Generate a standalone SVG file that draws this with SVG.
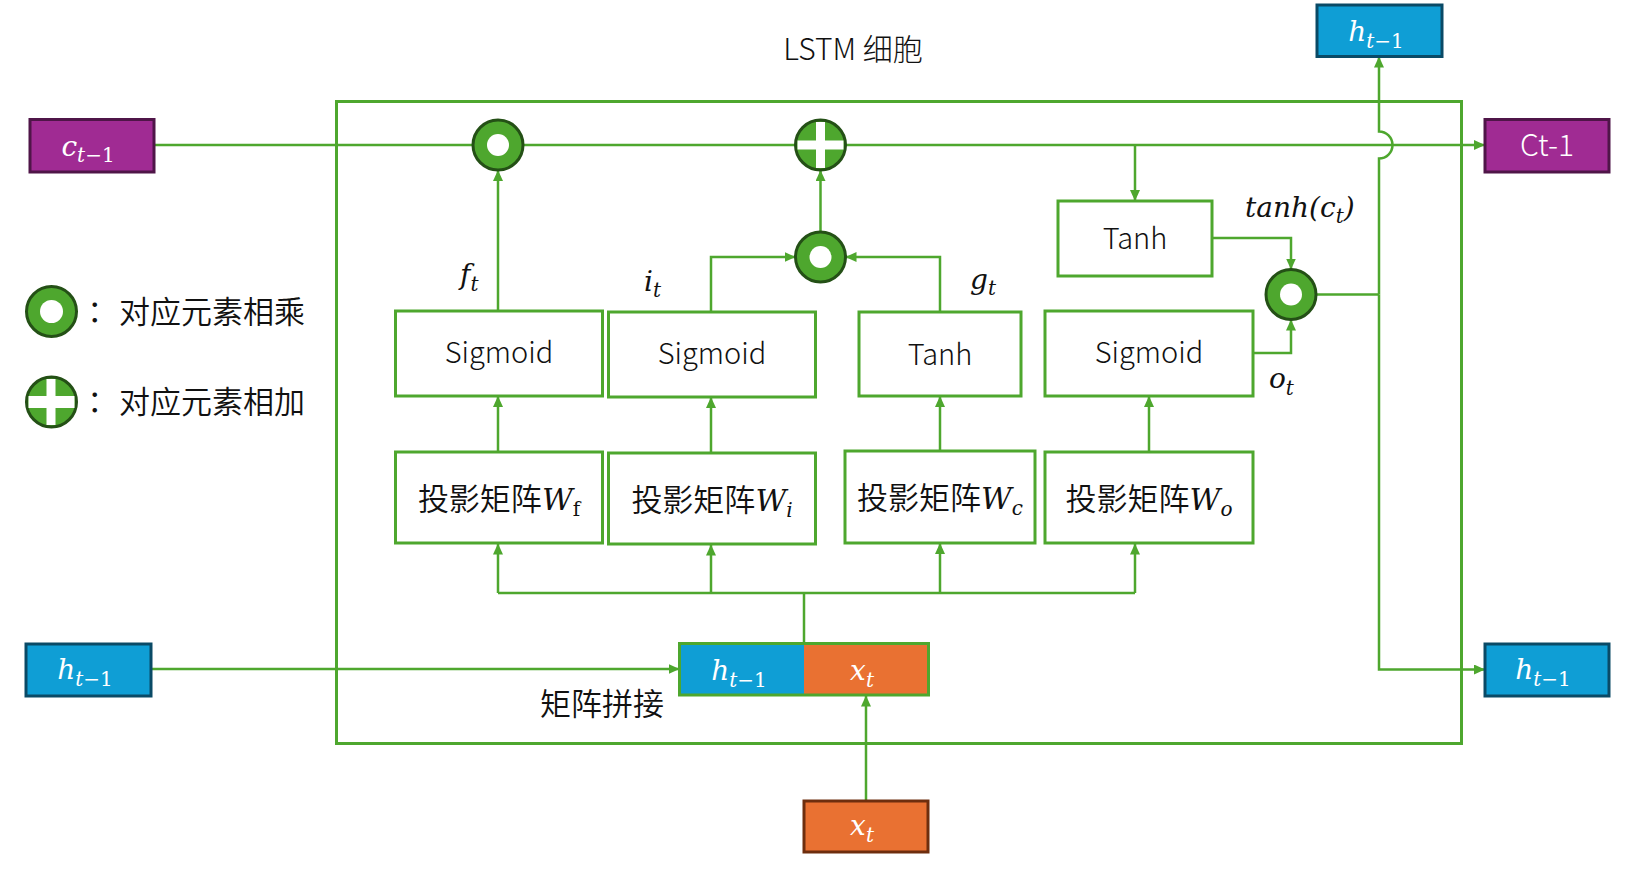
<svg xmlns="http://www.w3.org/2000/svg" width="1636" height="884" viewBox="0 0 1636 884">
<defs>
<style>
.frame{fill:none;stroke:#4EA72E;stroke-width:3}
.box{fill:#fff;stroke:#4EA72E;stroke-width:3}
.blue{fill:#0F9ED5;stroke:#0A4A66;stroke-width:3}
.purple{fill:#A02B93;stroke:#4F1548;stroke-width:3}
.orange{fill:#E97132;stroke:#6E2E0E;stroke-width:3}
.cat{fill:none;stroke:#4EA72E;stroke-width:3}
.op{fill:#4EA72E;stroke:#245016;stroke-width:3}
.hole{fill:#fff}
.conn{fill:none;stroke:#4EA72E;stroke-width:2.5}
.lbl{font-family:"Noto Sans CJK SC","Noto Sans",sans-serif;font-weight:300;font-size:29px;fill:#111;text-anchor:middle}
.cn{font-family:"Noto Sans CJK SC",sans-serif;font-weight:350;font-size:31px;fill:#111}
.math{font-family:"DejaVu Serif","Liberation Serif",serif;font-style:italic;font-size:28px;fill:#111}
.mw{font-family:"DejaVu Serif","Liberation Serif",serif;font-style:italic;font-size:30px}
.wt{fill:#fff}
.sub{font-size:20px}
.up{font-style:normal}
</style>
<marker id="arr" markerUnits="userSpaceOnUse" markerWidth="11" markerHeight="10" refX="11" refY="5" orient="auto" viewBox="0 0 11 10"><path d="M0,0 L11,5 L0,10 z" fill="#4EA72E"/></marker>
</defs>
<rect width="1636" height="884" fill="#fff"/>

<g id="frame"><rect class="frame" x="336.5" y="101.5" width="1125" height="642"/></g>
<text id="title" class="lbl" x="853" y="60" style="font-size:30px">LSTM 细胞</text>

<g id="connectors">
<path class="conn" d="M154,145 H1485" marker-end="url(#arr)"/>
<path class="conn" d="M498,311 V170" marker-end="url(#arr)"/>
<path class="conn" d="M820.5,232 V170" marker-end="url(#arr)"/>
<path class="conn" d="M711,312 V257 H795.5" marker-end="url(#arr)"/>
<path class="conn" d="M940,312 V257 H845.5" marker-end="url(#arr)"/>
<path class="conn" d="M1135,145 V201" marker-end="url(#arr)"/>
<path class="conn" d="M1212,238 H1291 V269.5" marker-end="url(#arr)"/>
<path class="conn" d="M1253,353 H1291 V319.5" marker-end="url(#arr)"/>
<path class="conn" d="M1316,294.5 H1379"/>
<path class="conn" d="M1379,294.5 V158.5 A13.5,13.5 0 0 0 1379,131.5 V56.5" marker-end="url(#arr)"/>
<path class="conn" d="M1379,294.5 V669.5 H1485" marker-end="url(#arr)"/>
<path class="conn" d="M151,669 H679.5" marker-end="url(#arr)"/>
<path class="conn" d="M498,452 V396" marker-end="url(#arr)"/>
<path class="conn" d="M711,453 V397" marker-end="url(#arr)"/>
<path class="conn" d="M940,451 V396" marker-end="url(#arr)"/>
<path class="conn" d="M1149,452 V396" marker-end="url(#arr)"/>
<path class="conn" d="M804,643.5 V593"/>
<path class="conn" d="M498,593 H1135"/>
<path class="conn" d="M498,593 V543.5" marker-end="url(#arr)"/>
<path class="conn" d="M711,593 V544.5" marker-end="url(#arr)"/>
<path class="conn" d="M940,593 V543" marker-end="url(#arr)"/>
<path class="conn" d="M1135,593 V543.5" marker-end="url(#arr)"/>
<path class="conn" d="M866,801 V695.5" marker-end="url(#arr)"/>
</g>

<g id="c_prev"><rect class="purple" x="30" y="119.5" width="124" height="52.5"/>
<text class="math wt" x="88" y="156" text-anchor="middle">c<tspan class="sub" dy="6">t</tspan><tspan class="sub up">−1</tspan></text></g>
<g id="c_out"><rect class="purple" x="1485" y="119.5" width="124" height="52.5"/>
<text class="lbl" x="1547" y="156" style="font-size:30px;fill:#fff">Ct-1</text></g>
<g id="h_top"><rect class="blue" x="1317" y="5" width="125" height="51.5"/>
<text class="math wt" x="1376" y="41" text-anchor="middle">h<tspan class="sub" dy="7">t</tspan><tspan class="sub up">−1</tspan></text></g>
<g id="h_in"><rect class="blue" x="26" y="644" width="125" height="52"/>
<text class="math wt" x="85" y="679" text-anchor="middle">h<tspan class="sub" dy="7">t</tspan><tspan class="sub up">−1</tspan></text></g>
<g id="h_out"><rect class="blue" x="1485" y="644" width="124" height="52"/>
<text class="math wt" x="1543" y="679" text-anchor="middle">h<tspan class="sub" dy="7">t</tspan><tspan class="sub up">−1</tspan></text></g>
<g id="x_in"><rect class="orange" x="804" y="801" width="124" height="51"/>
<text class="math wt" x="862" y="835" text-anchor="middle">x<tspan class="sub" dy="7">t</tspan></text></g>

<g id="concat">
<rect x="679.5" y="643.5" width="124.5" height="51.5" fill="#0F9ED5"/>
<rect x="804" y="643.5" width="124.5" height="51.5" fill="#E97132"/>
<rect class="cat" x="679.5" y="643.5" width="249" height="51.5"/>
<text class="math wt" x="739" y="680" text-anchor="middle">h<tspan class="sub" dy="7">t</tspan><tspan class="sub up">−1</tspan></text>
<text class="math wt" x="862" y="680" text-anchor="middle">x<tspan class="sub" dy="7">t</tspan></text>
</g>
<text id="concat_label" class="cn" x="540" y="715">矩阵拼接</text>

<g id="sig_f"><rect class="box" x="395.5" y="311" width="207" height="85"/><text class="lbl" x="499" y="363">Sigmoid</text></g>
<g id="sig_i"><rect class="box" x="608.5" y="312" width="207" height="85"/><text class="lbl" x="712" y="364">Sigmoid</text></g>
<g id="tanh_g"><rect class="box" x="859" y="312" width="162" height="84"/><text class="lbl" x="940" y="365">Tanh</text></g>
<g id="sig_o"><rect class="box" x="1045" y="311" width="208" height="85"/><text class="lbl" x="1149" y="363">Sigmoid</text></g>
<g id="tanh_c"><rect class="box" x="1058" y="201" width="154" height="75"/><text class="lbl" x="1135" y="249">Tanh</text></g>

<g id="w_f"><rect class="box" x="395.5" y="452" width="207" height="91"/>
<text class="cn" x="499" y="510" text-anchor="middle">投影矩阵<tspan class="mw">W</tspan><tspan class="mw sub up" dy="6">f</tspan></text></g>
<g id="w_i"><rect class="box" x="608.5" y="453" width="207" height="91"/>
<text class="cn" x="712" y="511" text-anchor="middle">投影矩阵<tspan class="mw">W</tspan><tspan class="mw sub" dy="6">i</tspan></text></g>
<g id="w_c"><rect class="box" x="845" y="451" width="190" height="92"/>
<text class="cn" x="940" y="509" text-anchor="middle">投影矩阵<tspan class="mw">W</tspan><tspan class="mw sub" dy="6">c</tspan></text></g>
<g id="w_o"><rect class="box" x="1045" y="452" width="208" height="91"/>
<text class="cn" x="1149" y="510" text-anchor="middle">投影矩阵<tspan class="mw">W</tspan><tspan class="mw sub" dy="6">o</tspan></text></g>

<g id="mul_f"><circle class="op" cx="498" cy="145" r="25"/><circle class="hole" cx="498" cy="145" r="11"/></g>
<g id="add_c"><circle class="op" cx="820.5" cy="145" r="25"/><rect fill="#fff" x="797.5" y="140.5" width="46" height="9"/><rect fill="#fff" x="816" y="122" width="9" height="46"/></g>
<g id="mul_ig"><circle class="op" cx="820.5" cy="257" r="25"/><circle class="hole" cx="820.5" cy="257" r="11"/></g>
<g id="mul_o"><circle class="op" cx="1291" cy="294.5" r="25"/><circle class="hole" cx="1291" cy="294.5" r="11"/></g>

<text class="math" x="460" y="284">f<tspan class="sub" dy="7">t</tspan></text>
<text class="math" x="644" y="291">i<tspan class="sub" dy="6">t</tspan></text>
<text class="math" x="970" y="289">g<tspan class="sub" dy="6">t</tspan></text>
<text class="math" x="1245" y="217">tanh(c<tspan class="sub" dy="6">t</tspan><tspan dy="-6">)</tspan></text>
<text class="math" x="1269" y="388">o<tspan class="sub" dy="7">t</tspan></text>

<g id="legend_mul"><circle class="op" cx="51.5" cy="311.5" r="25"/><circle class="hole" cx="51.5" cy="311.5" r="11.5"/>
<text class="cn" x="87" y="322">：</text><text class="cn" x="119" y="323">对应元素相乘</text></g>
<g id="legend_add"><circle class="op" cx="51.5" cy="402" r="25"/><rect fill="#fff" x="28.5" y="396" width="46" height="12"/><rect fill="#fff" x="46.5" y="379" width="9" height="46"/>
<text class="cn" x="87" y="412">：</text><text class="cn" x="119" y="413">对应元素相加</text></g>
</svg>
